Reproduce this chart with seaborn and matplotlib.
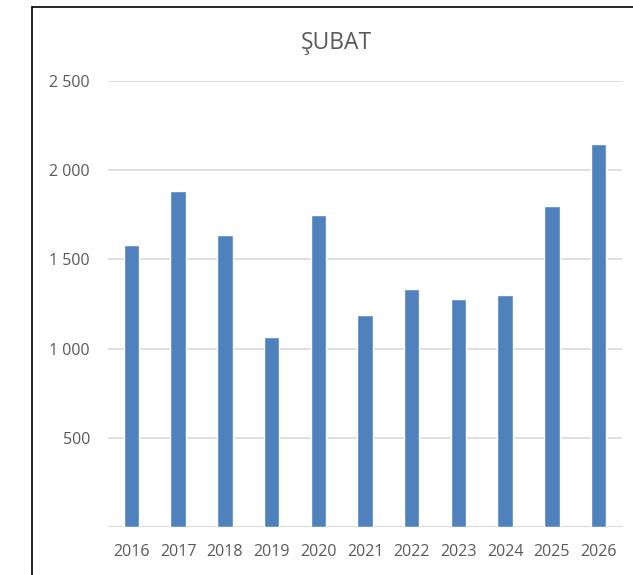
import matplotlib
matplotlib.use("Agg")
import matplotlib.pyplot as plt
from matplotlib.lines import Line2D
import seaborn as sns
import pandas as pd

# Data
years = ["2016", "2017", "2018", "2019", "2020", "2021",
         "2022", "2023", "2024", "2025", "2026"]
values = [1581, 1883, 1637, 1065, 1749, 1188, 1334, 1278, 1300, 1799, 2147]
yticks = [500, 1000, 1500, 2000, 2500]

df = pd.DataFrame({"Yil": years, "Deger": values})

sns.set_style("white")
plt.rcParams["font.family"] = ["Open Sans", "DejaVu Sans"]

fig = plt.figure(figsize=(6.33, 5.75), dpi=100)
ax = fig.add_axes([108 / 633, 48 / 575, (622 - 108) / 633, (527 - 81) / 575])

sns.barplot(data=df, x="Yil", y="Deger", color="#4F81BD", saturation=1,
            width=0.33, ax=ax, zorder=3)

ax.set_ylim(0, 2500)
ax.set_xlim(-0.5, len(years) - 0.5)
ax.set_yticks(yticks)
ax.set_yticklabels([f"{v:,}".replace(",", " ") for v in yticks])
ax.yaxis.grid(True, color="#D9D9D9", linewidth=1.2, zorder=0)
ax.axhline(0, color="#D9D9D9", linewidth=1.5, zorder=2)
ax.set_xlabel("")
ax.set_ylabel("")
ax.tick_params(axis="both", length=0, labelsize=11.5, labelcolor="#595959")
ax.tick_params(axis="y", pad=13)
ax.tick_params(axis="x", pad=12)
for s in ax.spines.values():
    s.set_visible(False)

fig.text(336 / 633, 1 - 43 / 575, "ŞUBAT", ha="center", va="center",
         fontsize=16.5, color="#595959")

# Chart frame (left and top edges)
fig.add_artist(Line2D([32 / 633, 32 / 633], [0, 1 - 7 / 575],
                      color="black", linewidth=1.2, transform=fig.transFigure))
fig.add_artist(Line2D([32 / 633, 1], [1 - 7 / 575, 1 - 7 / 575],
                      color="black", linewidth=1.2, transform=fig.transFigure))

fig.savefig("out.png", dpi=100, facecolor="white")
